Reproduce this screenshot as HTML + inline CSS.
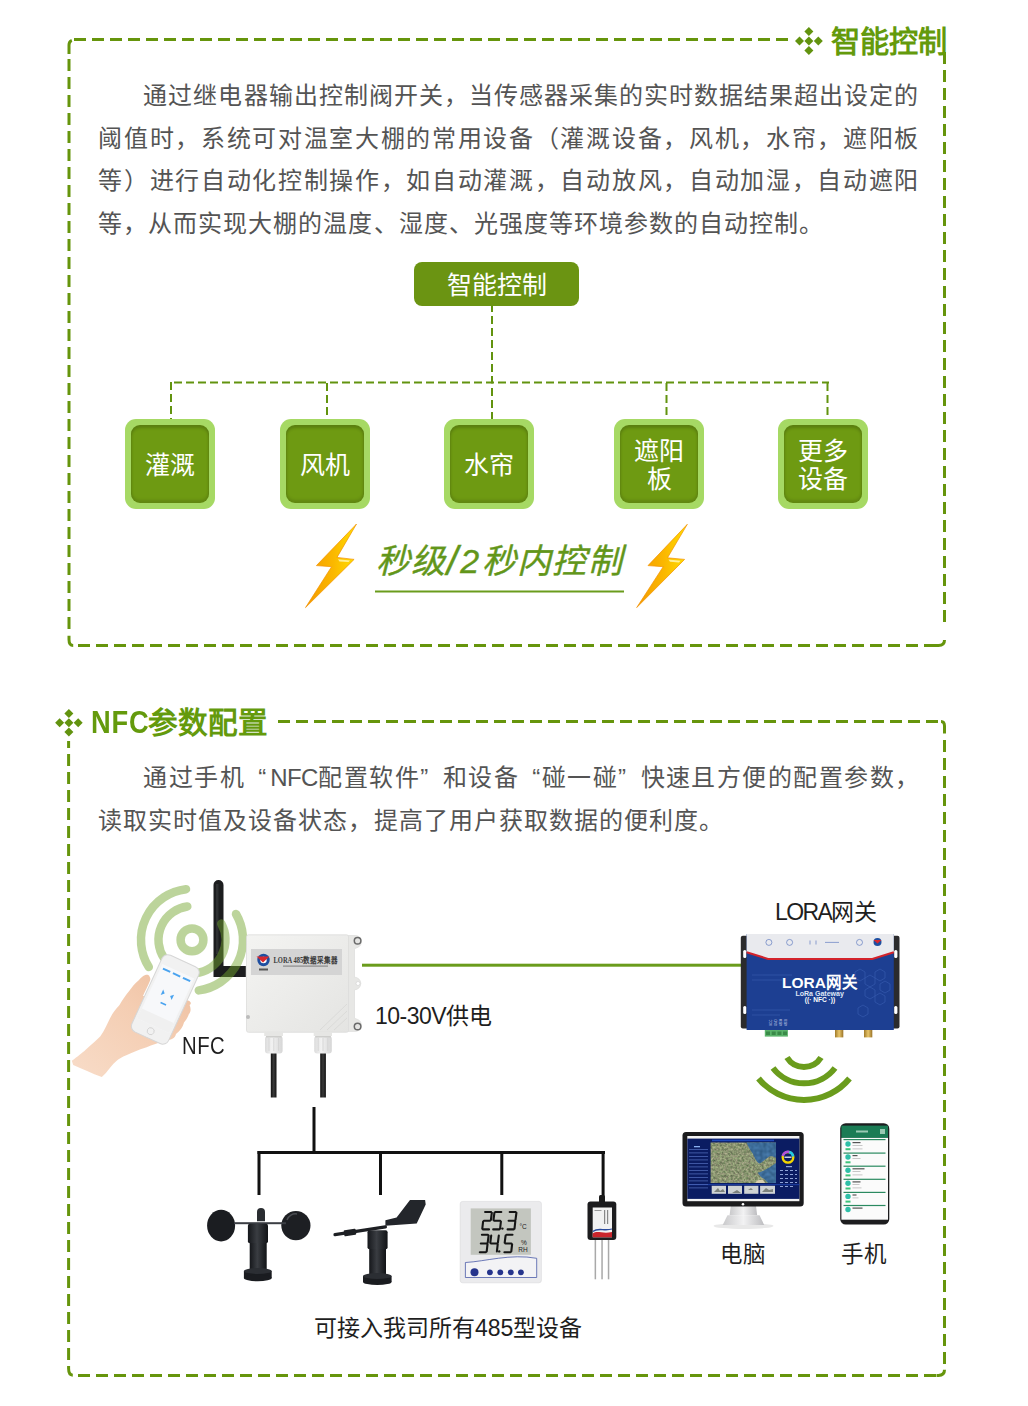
<!DOCTYPE html>
<html lang="zh-CN">
<head>
<meta charset="utf-8">
<style>
html,body{margin:0;padding:0;background:#fff;}
body{width:1028px;height:1406px;position:relative;overflow:hidden;font-family:"Liberation Sans",sans-serif;}
.a{position:absolute;white-space:nowrap;}
.p{font-size:24px;line-height:25px;letter-spacing:1.02px;color:#545454;}
.j{text-align:justify;text-align-last:justify;}
.tt{font-size:29.6px;line-height:30px;font-weight:bold;color:#649a0c;}
.bx{position:absolute;width:90px;height:90px;border-radius:11px;background:#a6d964;}
.bx i{position:absolute;left:6px;top:6px;width:78px;height:78px;border-radius:9px;background:#6e9a12;box-shadow:inset 0 3px 3px rgba(0,0,0,.18),inset 0 -3px 3px rgba(0,0,0,.12);}
.bx b{position:absolute;left:0;top:1px;width:90px;height:90px;display:flex;align-items:center;justify-content:center;text-align:center;font-weight:normal;font-size:25px;line-height:28px;color:#fff;}
svg{position:absolute;left:0;top:0;}
.qo{display:inline-block;width:22px;text-align:right;text-align-last:right;}
.qc{display:inline-block;width:22px;text-align:left;text-align-last:left;}
</style>
</head>
<body>
<svg width="1028" height="1406" viewBox="0 0 1028 1406">
 <g fill="none" stroke="#66950c" stroke-width="3">
  <!-- frame 1 -->
  <path d="M74 39.5H788" stroke-dasharray="12 6"/>
  <path d="M71.8 40.3Q69 41.3 69 45V54"/>
  <path d="M69 59V630" stroke-dasharray="12 6"/>
  <path d="M69 635.8V639.5Q69 645.5 73.2 645.5"/>
  <path d="M78 645.5H924" stroke-dasharray="12 6"/>
  <path d="M924 645.5H938.5Q944.5 645.5 944.5 640"/>
  <path d="M944.5 52V628" stroke-dasharray="12 6"/>
  <!-- frame 2 -->
  <path d="M278 721.4H938" stroke-dasharray="12 6"/>
  <path d="M941 721.4Q944.5 721.4 944.5 726V733.6"/>
  <path d="M944.5 740V1364" stroke-dasharray="12 6"/>
  <path d="M944.5 1369.8Q944.5 1375.4 938.5 1375.4H936.5"/>
  <path d="M78 1375.4H936" stroke-dasharray="12 6"/>
  <path d="M68.6 741V1360" stroke-dasharray="12 6" stroke-dashoffset="5"/>
  <path d="M68.6 1366V1368.5Q68.6 1375 72.8 1375.2"/>
 </g>
 <!-- title icons -->
 <g fill="#62930f">
  <path d="M808.9 26.9l4.5 4.5-4.5 4.5-4.5-4.5z"/>
  <path d="M808.9 36.4l4.5 4.5-4.5 4.5-4.5-4.5z"/>
  <path d="M808.9 45.9l4.5 4.5-4.5 4.5-4.5-4.5z"/>
  <path d="M799.5 36.4l4.5 4.5-4.5 4.5-4.5-4.5z"/>
  <path d="M818.3 36.4l4.5 4.5-4.5 4.5-4.5-4.5z"/>
 </g>
 <g fill="#62930f">
  <path d="M68.9 708.9l4.5 4.5-4.5 4.5-4.5-4.5z"/>
  <path d="M68.9 718.2l4.5 4.5-4.5 4.5-4.5-4.5z"/>
  <path d="M68.9 727.5l4.5 4.5-4.5 4.5-4.5-4.5z"/>
  <path d="M59.6 718.2l4.5 4.5-4.5 4.5-4.5-4.5z"/>
  <path d="M78.2 718.2l4.5 4.5-4.5 4.5-4.5-4.5z"/>
 </g>
 <!-- tree lines section 1 -->
 <g fill="none" stroke="#62930f" stroke-width="2" stroke-dasharray="8 4">
  <path d="M492 304V383.5"/>
  <path d="M171 382.5H829" stroke-dashoffset="9"/>
  <path d="M171 382V419"/>
  <path d="M327 383V419"/>
  <path d="M492 388V419"/>
  <path d="M666.5 383V419"/>
  <path d="M827.5 383V419"/>
 </g>
</svg>

<!-- Section 1 title -->
<div class="a tt" style="left:830.5px;top:26.8px;font-size:29.2px;">智能控制</div>

<!-- Paragraph 1 -->
<div class="a p j" style="left:143.4px;top:83px;width:776px;">通过继电器输出控制阀开关，当传感器采集的实时数据结果超出设定的</div>
<div class="a p j" style="left:98.3px;top:125.5px;width:821px;">阈值时，系统可对温室大棚的常用设备（灌溉设备，风机，水帘，遮阳板</div>
<div class="a p j" style="left:98.3px;top:168.3px;width:821px;">等）进行自动化控制操作，如自动灌溉，自动放风，自动加湿，自动遮阳</div>
<div class="a p" style="left:98.3px;top:211px;">等，从而实现大棚的温度、湿度、光强度等环境参数的自动控制。</div>

<!-- 智能控制 box -->
<div class="a" style="left:414px;top:262px;width:165px;height:44px;border-radius:8px;background:#6b9412;"></div>
<div class="a" style="left:414px;top:263px;width:165px;height:44px;line-height:44px;text-align:center;color:#fff;font-size:25px;">智能控制</div>

<div class="bx" style="left:125px;top:419px;"><i></i><b>灌溉</b></div>
<div class="bx" style="left:280px;top:419px;"><i></i><b>风机</b></div>
<div class="bx" style="left:444px;top:419px;"><i></i><b>水帘</b></div>
<div class="bx" style="left:614px;top:419px;"><i></i><b>遮阳<br>板</b></div>
<div class="bx" style="left:778px;top:419px;"><i></i><b>更多<br>设备</b></div>


<!-- lightning bolts + slogan -->
<svg width="1028" height="1406" viewBox="0 0 1028 1406">
 <defs>
  <linearGradient id="bolt" x1="0" y1="0" x2="1" y2="0">
   <stop offset="0" stop-color="#f39a00"/>
   <stop offset="0.55" stop-color="#fbb800"/>
   <stop offset="1" stop-color="#ffe000"/>
  </linearGradient>
 </defs>
 <g fill="url(#bolt)" stroke="#f29100" stroke-width="0.7" stroke-linejoin="miter">
  <path d="M356.5 524L316.4 565.6L331.6 566.7L305.5 607.6L354.1 559.4L337 557.4Z"/>
  <path d="M687.3 524.3L648 565.6L663.2 566.7L636.7 607.6L684.6 559.4L667.5 557.8Z"/>
 </g>
 <g fill="#fff6b0" opacity="0.85">
  <path d="M338 559.3l12 1.2-1.5 1.6-9-0.6z"/>
  <path d="M668.5 559.6l12 1.2-1.5 1.6-9-0.6z"/>
 </g>
 <rect x="375" y="590.5" width="249" height="2" fill="#6a9c1c"/>
</svg>
<div class="a" style="left:376px;top:541px;font-size:34px;line-height:36px;font-style:italic;color:#62961a;letter-spacing:1.4px;-webkit-text-stroke:0.4px #62961a;">秒级<span style="font-size:40px;margin-left:0px;margin-right:1px;position:relative;top:2px">/</span>2<span style="margin-left:1px">秒内控制</span></div>

<!-- Section 2 title -->
<div class="a tt" style="left:91px;top:708px;"><span style="display:inline-block;font-size:31px;letter-spacing:1px;transform:scaleX(0.88);transform-origin:0 0;margin-right:-10px;">NFC</span>参数配置</div>

<div class="a p j" style="left:143.4px;top:765px;width:777px;">通过手机<span class="qo">“</span><span style="letter-spacing:-0.6px;margin-left:3px">NFC</span>配置软件<span class="qc">”</span>和设备<span class="qo">“</span>碰一碰<span class="qc">”</span>快速且方便的配置参数，</div>
<div class="a p" style="left:98.3px;top:808px;">读取实时值及设备状态，提高了用户获取数据的便利度。</div>


<!-- Section 2 diagram -->
<svg width="1028" height="1406" viewBox="0 0 1028 1406">
 <defs>
  <linearGradient id="boxg" x1="0" y1="0" x2="1" y2="1">
   <stop offset="0" stop-color="#f4f4f2"/><stop offset="1" stop-color="#e4e4e2"/>
  </linearGradient>
  <linearGradient id="gl" x1="0" y1="0" x2="1" y2="0">
   <stop offset="0" stop-color="#dcdcdc"/><stop offset="0.4" stop-color="#f2f2f2"/><stop offset="1" stop-color="#d6d6d6"/>
  </linearGradient>
  <linearGradient id="cab" x1="0" y1="0" x2="1" y2="0">
   <stop offset="0" stop-color="#111"/><stop offset="0.5" stop-color="#3a3a3a"/><stop offset="1" stop-color="#111"/>
  </linearGradient>
  <linearGradient id="blk" x1="0" y1="0" x2="1" y2="0">
   <stop offset="0" stop-color="#15171b"/><stop offset="0.45" stop-color="#3a3d42"/><stop offset="1" stop-color="#111316"/>
  </linearGradient>
  <linearGradient id="skin" x1="0" y1="1" x2="1" y2="0">
   <stop offset="0" stop-color="#f8dcc8"/><stop offset="0.6" stop-color="#f4cdb2"/><stop offset="1" stop-color="#eebf9f"/>
  </linearGradient>
  <linearGradient id="silver" x1="0" y1="0" x2="1" y2="0">
   <stop offset="0" stop-color="#c9c9cb"/><stop offset="0.5" stop-color="#f2f2f3"/><stop offset="1" stop-color="#bdbdc0"/>
  </linearGradient>
  <linearGradient id="map" x1="0" y1="0" x2="1" y2="1">
   <stop offset="0" stop-color="#6f7f62"/><stop offset="0.55" stop-color="#8a9474"/><stop offset="1" stop-color="#4b7aa6"/>
  </linearGradient>
  <linearGradient id="gold" x1="0" y1="0" x2="1" y2="0">
   <stop offset="0" stop-color="#a07a2a"/><stop offset="0.5" stop-color="#e8c56a"/><stop offset="1" stop-color="#9a7328"/>
  </linearGradient>
 </defs>

 <!-- green connection line -->
 <rect x="362" y="963.7" width="380" height="3" fill="#6a9c1c"/>

 <!-- antenna -->
 <path d="M213.5 885a5 5 0 0 1 10 0V966h22.3v11H213.5Z" fill="#1c1d1f"/>
 <rect x="216" y="884" width="2.5" height="70" fill="#3b3d40" opacity="0.6"/>

 <!-- NFC rings (semi-transparent) -->
 <g fill="none" stroke="rgba(115,165,45,0.48)" stroke-linecap="round">
  <circle cx="192" cy="939.9" r="11.4" stroke-width="8.5"/>
  <path d="M187.3 906.5A33.5 33.5 0 0 0 164 958.1" stroke-width="8.5"/>
  <path d="M221.3 923.6A33.5 33.5 0 0 1 195.5 973.1" stroke-width="8.5"/>
  <path d="M186 889.2A51 51 0 0 0 148.8 967" stroke-width="8.5"/>
  <path d="M236 914A51 51 0 0 1 198.8 990.4" stroke-width="8.5"/>
 </g>

 <!-- hand -->
 <path d="M71.8 1060.8C78 1056 82 1053 85.4 1049.9C92 1044 97 1040 100.4 1036.3C105 1030 107 1024 109.9 1018.6C113 1012 116 1009 119.5 1004.9C123 999 126 995 129 991.3C132 987 135 983 138.5 980.4C141 978 143 975.5 145.3 975C147.5 974.5 149 975 149.4 976.3C150.5 978 150.5 979 150.1 980.4C148 986 145 991 143 996L186 1000C191 1000.5 192 1004 189.6 1005C191 1008 191 1012 188.9 1014C188 1017 186 1020 184 1022.5C183 1027 180 1031 176 1034C175 1038 172 1040 165.8 1040.3C158 1043 152 1045 146.7 1047.2C138 1050 131 1053 126.3 1055.3C122 1057 119 1059 116.7 1060.8C112 1065 109 1069 105.9 1073L101.8 1077.1C92 1073 82 1069 73.2 1064.9Z" fill="url(#skin)"/>
 <!-- phone -->
 <g transform="translate(165.3 999.4) rotate(24.7)">
  <rect x="-20.2" y="-42.3" width="40.4" height="84.6" rx="6.5" fill="#f1f1f1" stroke="#d6d6d6" stroke-width="1"/>
  <rect x="-17.5" y="-31" width="35" height="60" fill="#f7f8fa"/>
  <rect x="-15" y="-28" width="8" height="2" fill="#4aa3ef"/>
  <rect x="-4" y="-28" width="8" height="2" fill="#4aa3ef"/>
  <rect x="7" y="-28" width="8" height="2" fill="#4aa3ef"/>
  <path d="M-6 -8l3 3l-3 3zM6 -8l-3 3l3 3z" fill="#4aa3ef"/>
  <rect x="-3" y="4" width="6" height="1.6" fill="#4aa3ef"/>
  <rect x="-17.5" y="18" width="35" height="11" fill="#f0f0f0"/>
  <circle cx="0" cy="35" r="3.5" fill="none" stroke="#d0d0d0" stroke-width="0.8"/>
 </g>

 <!-- LORA 485 collector box -->
 <path d="M347 935.5h8.6a6.3 6.3 0 0 1 1.5 12.2l-2.6 1v28.5a6 6 0 0 1 0 12.6v28.4l2.6 1a6.3 6.3 0 0 1-1.5 12.2h-8.6z" fill="#e7e7e5" stroke="#d8d8d6" stroke-width="0.6"/>
 <circle cx="357.6" cy="940.8" r="3.3" fill="#e4e4e2" stroke="#6a6a6a" stroke-width="1.5"/>
 <circle cx="357.6" cy="1026.5" r="3.3" fill="#e4e4e2" stroke="#6a6a6a" stroke-width="1.5"/>
 <circle cx="358" cy="983.5" r="2" fill="#fff" stroke="#d0d0d0" stroke-width="0.6"/>
 <rect x="246.5" y="934.8" width="102" height="97.5" rx="2" fill="url(#boxg)" stroke="#dcdcda" stroke-width="0.8"/>
 <rect x="251" y="949" width="91" height="26" fill="#d4d4d4"/>
 <circle cx="263.5" cy="960" r="6.2" fill="#1e4ea0"/>
 <circle cx="263.5" cy="960" r="3.2" fill="#fff"/>
 <path d="M256.5 956.5h13l-6.5 6z" fill="#d8282e"/>
 <rect x="259" y="968.5" width="9" height="2" fill="#555"/>
 <text x="273.5" y="963.2" font-family="Liberation Serif" font-weight="bold" font-size="7.6" fill="#3a3a3a" textLength="64" lengthAdjust="spacingAndGlyphs">LORA 485数据采集器</text>
 <rect x="283" y="965.5" width="45" height="1.2" fill="#8a8a8a"/>
 <path d="M320 1030l27-26M327 1030l20-19M334 1030l13-12" stroke="#dadad8" stroke-width="1"/>
 <circle cx="248" cy="1017" r="2" fill="#bbb"/>
 <!-- glands -->
 <rect x="264.2" y="1032" width="18.8" height="4" fill="#e6e6e4"/>
 <rect x="313.7" y="1032" width="18.3" height="4" fill="#e6e6e4"/>
 <rect x="265" y="1036" width="17.6" height="17.5" rx="3" fill="url(#gl)"/>
 <rect x="314.2" y="1036" width="17.6" height="17.5" rx="3" fill="url(#gl)"/>
 <g stroke="#cfcfcf" stroke-width="0.7">
  <path d="M269 1038v13M273.8 1038v13M278.6 1038v13M318.2 1038v13M323 1038v13M327.8 1038v13"/>
 </g>
 <rect x="266" y="1036" width="15.6" height="1.5" fill="#cdcdcb"/>
 <rect x="315.2" y="1036" width="15.6" height="1.5" fill="#cdcdcb"/>
 <!-- cables -->
 <rect x="270.8" y="1053.5" width="5.7" height="44" fill="url(#cab)"/>
 <rect x="320.2" y="1053.5" width="5.7" height="44" fill="url(#cab)"/>

 <!-- bus tree -->
 <g fill="#111">
  <rect x="312.5" y="1107" width="3" height="46"/>
  <rect x="257.5" y="1151" width="347.5" height="3"/>
  <rect x="257.5" y="1151" width="3" height="44"/>
  <rect x="379" y="1151" width="3" height="44"/>
  <rect x="500.3" y="1151" width="3" height="44"/>
  <rect x="601.6" y="1151" width="3" height="47"/>
 </g>

 <!-- anemometer -->
 <g>
  <ellipse cx="221.1" cy="1225.6" rx="14" ry="15.8" fill="#1b1d21"/>
  <circle cx="295.9" cy="1225.6" r="14.6" fill="#1d1f23"/>
  <path d="M287 1220a9 9 0 0 1 10-6" stroke="#4a4d52" stroke-width="1.5" fill="none"/>
  <rect x="234" y="1222.2" width="52" height="2" fill="#3b3e44"/>
  <path d="M257 1221.3V1212a4 4 0 0 1 8 0V1221.3z" fill="#2a2d31"/>
  <rect x="247.9" y="1223.8" width="20.1" height="19.4" rx="2" fill="url(#blk)"/>
  <rect x="249.7" y="1243" width="17" height="27" fill="url(#blk)"/>
  <rect x="243.9" y="1271" width="27.8" height="7" fill="#1a1c20"/>
  <ellipse cx="257.8" cy="1278" rx="13.9" ry="3.3" fill="#1a1c20"/>
  <ellipse cx="257.8" cy="1271" rx="13.9" ry="3" fill="#2b2e33"/>
 </g>

 <!-- wind vane -->
 <g>
  <path d="M385.4 1220.2L396.6 1217.4L410 1200H425.1L425.7 1204.5L416.7 1223.6L385.4 1225.8Z" fill="#23262b"/>
  <path d="M335 1234.7L385.4 1226.9" stroke="#1d1f23" stroke-width="3.2" stroke-linecap="round"/>
  <rect x="344" y="1229.5" width="12" height="6" rx="1" fill="#1d1f23" transform="rotate(-9 350 1232.5)"/>
  <rect x="367.5" y="1230.3" width="20.1" height="19" rx="2" fill="url(#blk)"/>
  <rect x="369.2" y="1249" width="16.8" height="26" fill="url(#blk)"/>
  <rect x="363" y="1276" width="28.6" height="6" fill="#1a1c20"/>
  <ellipse cx="377.3" cy="1282" rx="14.3" ry="3" fill="#1a1c20"/>
  <ellipse cx="377.3" cy="1276" rx="14.3" ry="3" fill="#2b2e33"/>
 </g>

 <!-- temp humidity display -->
 <g>
  <rect x="460.2" y="1201.4" width="81.2" height="81.4" rx="2.5" fill="#ebebed" stroke="#d8d8da" stroke-width="0.6"/>
  <rect x="470.7" y="1208.4" width="60.2" height="46.4" fill="#c3c6bf"/>
  <path d="M485.1 1212.0L491.1 1212.0M491.8 1212.8L490.9 1219.9M484.0 1220.7L490.0 1220.7M483.1 1221.5L482.3 1228.6M483.0 1229.4L489.0 1229.4M495.3 1212.0L501.3 1212.0M494.4 1212.8L493.5 1219.9M494.2 1220.7L500.2 1220.7M500.9 1221.5L500.1 1228.6M493.2 1229.4L499.2 1229.4M509.7 1212.0L515.7 1212.0M516.4 1212.8L515.5 1219.9M508.6 1220.7L514.6 1220.7M515.3 1221.5L514.5 1228.6M507.6 1229.4L513.6 1229.4M481.9 1234.8L487.9 1234.8M488.6 1235.6L487.7 1242.7M480.8 1243.5L486.8 1243.5M487.5 1244.3L486.7 1251.4M479.8 1252.2L485.8 1252.2M491.2 1235.6L490.3 1242.7M491.0 1243.5L497.0 1243.5M498.8 1235.6L497.9 1242.7M497.7 1244.3L496.9 1251.4M506.5 1234.8L512.5 1234.8M505.6 1235.6L504.7 1242.7M505.4 1243.5L511.4 1243.5M512.1 1244.3L511.3 1251.4M504.4 1252.2L510.4 1252.2" stroke="#151515" stroke-width="2.1" stroke-linecap="round" fill="none"/>
  <circle cx="502.4" cy="1228.6" r="1.2" fill="#151515"/><circle cx="499.2" cy="1251.4" r="1.2" fill="#151515"/>
  <text x="519.5" y="1229.4" font-family="Liberation Sans" font-size="6.5" fill="#222">°C</text>
  <text x="521" y="1245" font-family="Liberation Sans" font-size="6.5" fill="#222">%</text>
  <text x="518.3" y="1252" font-family="Liberation Sans" font-size="6.5" fill="#222">RH</text>
  <path d="M465.4 1262.5c20-1 45-9 71.3-4.2v19.2h-71.3z" fill="#f3f3f5" stroke="#4a5aa8" stroke-width="0.8"/>
  <circle cx="474.5" cy="1272.3" r="4" fill="#25348c"/>
  <circle cx="489.9" cy="1272.3" r="2.9" fill="#25348c"/>
  <circle cx="500.3" cy="1272.3" r="2.9" fill="#25348c"/>
  <circle cx="510.8" cy="1272.3" r="2.9" fill="#25348c"/>
  <circle cx="520.9" cy="1272.3" r="2.9" fill="#25348c"/>
 </g>

 <!-- soil sensor -->
 <g>
  <rect x="599" y="1195" width="6" height="8" rx="1.5" fill="#1b1b1b"/>
  <rect x="587.5" y="1201.4" width="28.8" height="38.5" rx="3" fill="#1c1c1e"/>
  <rect x="592.7" y="1207.5" width="19.3" height="29.8" fill="#f2f2f2"/>
  <path d="M592.7 1233.5c5-3.5 10 1 19.3-1.5v5.3h-19.3z" fill="#c9252c"/>
  <path d="M592.7 1231.5c6-4.5 11 0 19.3-2.5" stroke="#2a4a9c" stroke-width="1.3" fill="none"/>
  <rect x="594.5" y="1210" width="7" height="1" fill="#999"/>
  <rect x="604" y="1210" width="1.2" height="14" fill="#888"/>
  <rect x="607" y="1210" width="1.2" height="14" fill="#888"/>
  <g fill="#a9a9a9">
   <rect x="594.6" y="1240" width="1.5" height="39.3"/>
   <rect x="601.3" y="1240" width="1.5" height="39.3"/>
   <rect x="607.8" y="1240" width="1.5" height="39.3"/>
  </g>
 </g>

 <!-- LORA gateway -->
 <g>
  <rect x="740.8" y="935.7" width="158.7" height="92.7" rx="2" fill="#2b2b2d"/>
  <rect x="743.2" y="950" width="3.2" height="8" rx="1.5" fill="#fff"/>
  <rect x="743.2" y="1006" width="3.2" height="8" rx="1.5" fill="#fff"/>
  <rect x="894.2" y="950" width="3.2" height="8" rx="1.5" fill="#fff"/>
  <rect x="894.2" y="1006" width="3.2" height="8" rx="1.5" fill="#fff"/>
  <rect x="746.6" y="934" width="147.2" height="96" fill="#1d3f92"/>
  <path d="M746.6 934H893.8V952.3L872.3 958.9H768L746.6 952.3Z" fill="#e9eaee"/>
  <path d="M746.6 952.3L768 958.9H872.3L893.8 952.3" stroke="#d3232b" stroke-width="2" fill="none"/>
  <g fill="none" stroke="#4a6ab8" stroke-width="0.6">
   <circle cx="768.9" cy="942.4" r="3"/><circle cx="789.6" cy="942.4" r="3"/>
   <circle cx="859.5" cy="942.4" r="3"/>
   <path d="M810 940.5v4M816 940.5v4M825 942.4h14"/>
  </g>
  <circle cx="877.5" cy="942" r="4" fill="#1e4ea0"/>
  <path d="M873.5 940h8l-4 3.5z" fill="#d8282e"/>
  <g fill="none" stroke="#3f64b8" stroke-width="0.6" opacity="0.8">
   <path d="M855 972l5-3 5 3v6l-5 3-5-3zM865 978l5-3 5 3v6l-5 3-5-3zM875 972l5-3 5 3v6l-5 3-5-3zM865 990l5-3 5 3v6l-5 3-5-3zM875 996l5-3 5 3v6l-5 3-5-3zM858 1008l5-3 5 3v6l-5 3-5-3zM880 984l5-3 5 3v6l-5 3-5-3z"/>
   <path d="M752 975h40M752 980h30M752 1010h38M752 1015h28"/>
  </g>
  <text x="820" y="988.2" text-anchor="middle" font-family="Liberation Sans" font-weight="bold" font-size="15.5" fill="#fff" textLength="76" lengthAdjust="spacingAndGlyphs">LORA网关</text>
  <text x="819.7" y="995.5" text-anchor="middle" font-family="Liberation Sans" font-weight="bold" font-size="6.3" fill="#dfe6f6" textLength="48.5" lengthAdjust="spacingAndGlyphs">LoRa Gateway</text>
  <text x="820" y="1002.4" text-anchor="middle" font-family="Liberation Sans" font-weight="bold" font-size="6.6" fill="#fff">((· NFC ·))</text>
  <g fill="#c8d2ea" font-family="Liberation Sans" font-size="3">
   <text x="772" y="1026" transform="rotate(-90 772 1026)">VCC</text>
   <text x="777" y="1026" transform="rotate(-90 777 1026)">GND</text>
   <text x="782" y="1026" transform="rotate(-90 782 1026)">485A</text>
   <text x="787" y="1026" transform="rotate(-90 787 1026)">485B</text>
  </g>
  <rect x="764.8" y="1030" width="23.1" height="6.6" fill="#5bb36a"/>
  <g fill="#3a8a48"><rect x="766" y="1031.5" width="4" height="3.5"/><rect x="771.7" y="1031.5" width="4" height="3.5"/><rect x="777.4" y="1031.5" width="4" height="3.5"/><rect x="783" y="1031.5" width="4" height="3.5"/></g>
  <rect x="835" y="1030" width="8.3" height="7.4" fill="url(#gold)"/>
  <rect x="864" y="1030" width="8.3" height="7.4" fill="url(#gold)"/>
 </g>

 <!-- wifi arcs -->
 <g fill="none" stroke="#6a9c1c" stroke-width="6" stroke-linecap="butt">
  <path d="M787 1057.5A20 20 0 0 0 821 1057.5"/>
  <path d="M773 1068A39 39 0 0 0 835 1068"/>
  <path d="M758.5 1078.5A59 59 0 0 0 849.5 1078.5"/>
 </g>

 <!-- monitor -->
 <defs>
  <filter id="sat" x="710.6" y="1142.5" width="65.4" height="40.5" filterUnits="userSpaceOnUse" color-interpolation-filters="sRGB">
   <feTurbulence type="fractalNoise" baseFrequency="0.45" numOctaves="2" seed="7"/>
   <feColorMatrix type="matrix" values="0.5 0 0 0 0.29  0.45 0.15 0 0 0.28  0.4 0 0 0 0.24  0 0 0 0 1"/>
   <feComposite in2="SourceGraphic" operator="in"/>
  </filter>
  <filter id="sea" x="740" y="1142.5" width="36" height="40.5" filterUnits="userSpaceOnUse" color-interpolation-filters="sRGB">
   <feTurbulence type="fractalNoise" baseFrequency="0.3" numOctaves="1" seed="2"/>
   <feColorMatrix type="matrix" values="0.15 0 0 0 0.16  0.2 0 0 0 0.32  0.25 0 0 0 0.47  0 0 0 0 1"/>
   <feComposite in2="SourceGraphic" operator="in"/>
  </filter>
 </defs>
 <g>
  <ellipse cx="743.5" cy="1226" rx="30" ry="3" fill="#e8e8e8"/>
  <path d="M730.8 1206h25.2l1.2 9.3h-27.6z" fill="url(#silver)"/>
  <path d="M727.5 1215.3h32l4.7 9.6h-41.5z" fill="url(#silver)"/>
  <rect x="682.5" y="1132" width="121.2" height="74.5" rx="3.5" fill="#1b1b1d"/>
  <rect x="687.3" y="1136" width="112.1" height="65.2" fill="#f4f4f4"/>
  <rect x="687.3" y="1138.6" width="112.1" height="60.3" fill="#0b1c62"/>
  <rect x="710.6" y="1142.5" width="65.4" height="40.5" filter="url(#sat)"/>
  <path d="M746.5 1142.5H776V1158C773 1156 770 1155.5 768 1157.5C764 1160 762 1163 759 1163.6C756 1161 754 1157 753.3 1154.5C750 1150 748 1146 746.5 1142.5Z" filter="url(#sea)"/>
  <path d="M776 1163C772 1166 768 1168 765 1170C761 1172 758 1172.5 757.8 1172.7C759 1175 762 1178 764.7 1179.5C766 1181 767 1182 768 1183H776Z" filter="url(#sea)"/>
  <path d="M755 1183c2-3 5-4 8-3l2 3z" fill="#d8cfae"/>
  <rect x="687.5" y="1184" width="112" height="1.2" fill="#1a3a9a"/>
  <g fill="#cfd3d4">
   <rect x="711.7" y="1185.8" width="14.3" height="8"/><rect x="728" y="1185.8" width="14" height="8"/><rect x="744.2" y="1185.8" width="14.2" height="8"/><rect x="760.1" y="1185.8" width="14.9" height="8"/>
  </g>
  <g fill="#5a5f58" opacity="0.7">
   <path d="M714 1192l4-4 2 3 3-2 2 3zM732 1193l5-3 4 3zM748 1190l3-2 2 2zM762 1192l4-4 3 2 4-1v3z"/>
  </g>
  <circle cx="788" cy="1157.3" r="5.3" fill="none" stroke="#f2d600" stroke-width="2.4"/>
  <path d="M782.8 1156a5.3 5.3 0 0 1 6.5-4" stroke="#b050e0" stroke-width="2.4" fill="none"/>
  <path d="M789.3 1152a5.3 5.3 0 0 1 3.8 4.5" stroke="#20c8e8" stroke-width="2.4" fill="none"/>
  <rect x="784.5" y="1156.5" width="7" height="1.5" fill="#c8d0e8"/>
  <g fill="#4c66b4">
   <rect x="689" y="1149" width="19" height="0.8"/><rect x="689" y="1152.5" width="19" height="0.8"/><rect x="689" y="1156" width="19" height="0.8"/><rect x="689" y="1159.5" width="19" height="0.8"/><rect x="689" y="1163" width="19" height="0.8"/><rect x="689" y="1166.5" width="19" height="0.8"/><rect x="689" y="1170" width="19" height="0.8"/><rect x="689" y="1173.5" width="19" height="0.8"/><rect x="689" y="1177" width="19" height="0.8"/><rect x="689" y="1180.5" width="19" height="0.8"/><rect x="689" y="1184" width="19" height="0.8"/><rect x="689" y="1187.5" width="19" height="0.8"/>
  </g>
  <rect x="694" y="1146" width="6" height="1.3" fill="#8ab0f0"/>
  <g fill="#8fa4d8">
   <rect x="780" y="1170" width="3" height="1"/><rect x="785" y="1170" width="3" height="1"/><rect x="790" y="1170" width="3" height="1"/><rect x="795" y="1170" width="2" height="1"/>
   <rect x="780" y="1174" width="3" height="1"/><rect x="785" y="1174" width="3" height="1"/><rect x="790" y="1174" width="3" height="1"/><rect x="795" y="1174" width="2" height="1"/>
   <rect x="780" y="1178" width="3" height="1"/><rect x="785" y="1178" width="3" height="1"/><rect x="790" y="1178" width="3" height="1"/><rect x="795" y="1178" width="2" height="1"/>
   <rect x="780" y="1182" width="3" height="1"/><rect x="785" y="1182" width="3" height="1"/><rect x="790" y="1182" width="3" height="1"/><rect x="795" y="1182" width="2" height="1"/>
   <rect x="780" y="1186" width="3" height="1"/><rect x="785" y="1186" width="3" height="1"/><rect x="790" y="1186" width="3" height="1"/>
   <rect x="786" y="1166" width="6" height="1.2"/>
  </g>
  <rect x="712" y="1139.6" width="62" height="1.6" fill="#1e48b8"/>
  <circle cx="743" cy="1204.2" r="1.3" fill="#fff"/>
 </g>

 <!-- mobile phone -->
 <g>
  <rect x="840.2" y="1123.2" width="49.1" height="101.4" rx="5.5" fill="#1d1d1f"/>
  <rect x="841.4" y="1125.6" width="46.6" height="12.3" fill="#1b7c55"/>
  <rect x="841.4" y="1137.9" width="46.6" height="81.8" fill="#fbfbfb"/>
  <g fill="#2a8a60">
   <rect x="843.5" y="1139" width="42" height="1.2"/><rect x="843.5" y="1152.5" width="42" height="1.2"/><rect x="843.5" y="1165.6" width="42" height="1.2"/><rect x="843.5" y="1178.7" width="42" height="1.2"/><rect x="843.5" y="1191.8" width="42" height="1.2"/><rect x="843.5" y="1204.9" width="42" height="1.2"/>
  </g>
  <g fill="#2fbfa8">
   <circle cx="848" cy="1144" r="2.7"/><circle cx="848" cy="1157" r="2.7"/><circle cx="848" cy="1170.2" r="2.7"/><circle cx="848" cy="1183.3" r="2.7"/><circle cx="848" cy="1196.4" r="2.7"/><circle cx="848" cy="1209.5" r="2.7"/>
  </g>
  <g fill="#3cc47a">
   <rect x="845.5" y="1148.2" width="5" height="2"/><rect x="845.5" y="1161.3" width="5" height="2"/><rect x="845.5" y="1174.4" width="5" height="2"/><rect x="845.5" y="1187.5" width="5" height="2"/><rect x="845.5" y="1200.6" width="5" height="2"/>
  </g>
  <g fill="#555">
   <rect x="852.5" y="1142" width="8" height="1.2"/><rect x="852.5" y="1155" width="5" height="1.2"/><rect x="852.5" y="1168.2" width="12" height="1.2"/><rect x="852.5" y="1181.3" width="8" height="1.2"/><rect x="852.5" y="1194.4" width="4" height="1.2"/><rect x="852.5" y="1207.5" width="10" height="1.2"/>
  </g>
  <g fill="#bbb">
   <rect x="852.5" y="1145" width="10" height="0.8"/><rect x="852.5" y="1148.5" width="10" height="0.8"/><rect x="852.5" y="1158" width="8" height="0.8"/><rect x="852.5" y="1171" width="8" height="0.8"/><rect x="852.5" y="1174.5" width="10" height="0.8"/><rect x="852.5" y="1184" width="7" height="0.8"/><rect x="852.5" y="1187.5" width="9" height="0.8"/><rect x="852.5" y="1197.5" width="6" height="0.8"/>
  </g>
  <rect x="880" y="1129" width="5" height="5" fill="#cfe9dc" opacity="0.7"/>
  <rect x="856" y="1130.5" width="12" height="2" fill="#cfe9dc" opacity="0.7"/>
 </g>
</svg>

<div class="a" style="left:182px;top:1033px;font-size:23.6px;line-height:26px;letter-spacing:0.6px;color:#1e1e1e;transform:scaleX(0.86);transform-origin:0 0;">NFC</div>
<div class="a" style="left:375px;top:1003px;font-size:23px;line-height:26px;color:#1e1e1e;"><span style="letter-spacing:-0.5px">10-30V</span>供电</div>
<div class="a" style="left:775px;top:899px;font-size:23px;line-height:26px;color:#1e1e1e;"><span style="letter-spacing:-1.6px">LORA</span>网关</div>
<div class="a" style="left:720px;top:1241.5px;font-size:22.5px;line-height:26px;color:#1e1e1e;">电脑</div>
<div class="a" style="left:841px;top:1241.5px;font-size:22.5px;line-height:26px;color:#1e1e1e;">手机</div>
<div class="a" style="left:314px;top:1315px;font-size:23px;line-height:26px;color:#1e1e1e;">可接入我司所有485型设备</div>

</body>
</html>
